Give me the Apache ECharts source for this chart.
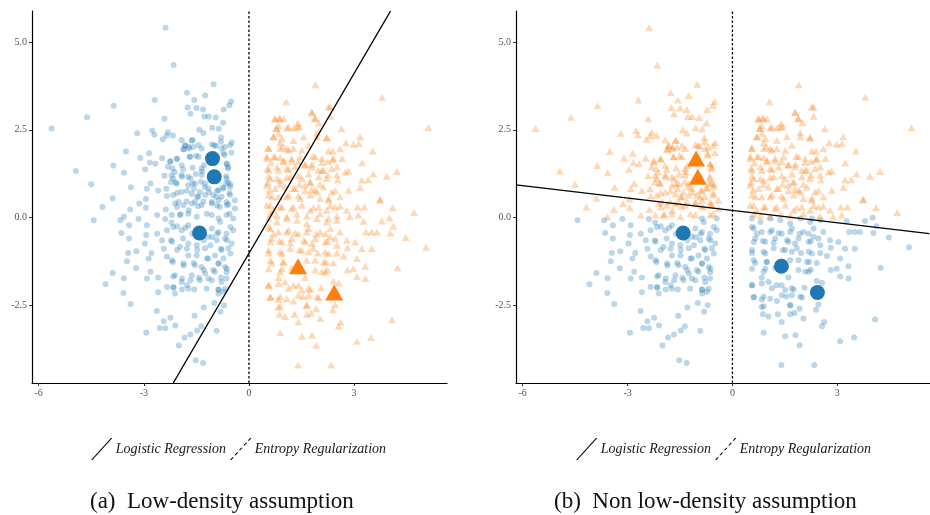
<!DOCTYPE html>
<html>
<head>
<meta charset="utf-8">
<title>Low-density vs non low-density assumption</title>
<script src="https://cdn.jsdelivr.net/npm/echarts@6.0.0/dist/echarts.min.js"></script>
<style>
body { margin: 0; background: #fff; }
#main { width: 930px; height: 515px; }
</style>
</head>
<body>
<div id="main"></div>
<script>
// points of the left blob (x < 0) and of the right blob (x > 0)
var leftCluster = [
  [-2.38,5.41],[-2.15,4.35],[-1.01,3.80],[-1.77,3.56],[-1.25,3.48],[-1.56,3.35],[-0.51,3.31],[-2.69,3.35],[-3.86,3.19],[-4.62,2.86],
  [-5.63,2.54],[-1.75,3.14],[-1.50,3.12],[-1.31,3.08],[-0.56,3.20],[-0.72,3.08],[-1.67,2.96],[-1.27,2.88],[-1.15,2.88],[-0.95,2.85],
  [-2.41,2.82],[-0.74,2.70],[-1.05,2.56],[-0.86,2.53],[-1.42,2.50],[-2.76,2.48],[-3.19,2.40],[-2.31,2.43],[-2.70,2.36],[-2.35,2.33],
  [-2.17,2.34],[-1.30,2.41],[-2.46,2.23],[-0.80,2.28],[-1.92,2.21],[-1.61,2.21],[-0.49,2.14],[-1.83,2.05],[-1.72,2.02],[-1.06,2.08],
  [-0.94,2.04],[-0.69,2.01],[-3.51,1.88],[-2.85,1.83],[-3.10,1.70],[-2.48,1.69],[-2.05,1.66],[-1.86,1.95],[-1.69,1.73],[-1.51,1.76],
  [-0.72,1.83],[-2.83,1.57],[-2.67,1.53],[-2.24,1.61],[-2.31,1.45],[-3.87,1.48],[-4.94,1.33],[-3.57,1.28],[-2.96,1.38],[-1.88,1.38],
  [-2.12,1.30],[-1.52,1.24],[-1.34,1.31],[-0.63,1.52],[-0.60,1.40],[-2.41,1.19],[-2.21,1.20],[-1.91,1.16],[-1.67,1.11],[-4.50,0.95],
  [-3.37,0.86],[-2.81,0.97],[-2.22,1.01],[-2.09,0.99],[-1.61,0.97],[-1.37,1.02],[-0.65,1.18],[-0.65,0.97],[-0.53,0.94],[-2.91,0.82],
  [-2.59,0.77],[-2.36,0.82],[-2.05,0.70],[-1.77,0.76],[-1.57,0.82],[-1.26,0.87],[-0.91,0.76],[-0.74,0.86],[-0.56,0.70],[-3.89,0.55],
  [-2.94,0.53],[-2.34,0.61],[-1.48,0.59],[-1.14,0.72],[-0.93,0.59],
  [-4.18,0.30],[-3.39,0.23],[-3.13,0.40],[-2.94,0.28],[-3.15,-0.04],[-4.43,-0.08],[-3.67,-0.08],[-3.57,0.02],[-3.42,-0.22],[-3.64,-0.44],
  [-2.91,-0.22],[-2.62,0.07],[-2.39,-0.04],[-2.21,-0.14],[-2.37,0.23],[-2.05,0.30],[-1.95,0.09],[-1.72,0.21],[-1.46,0.32],[-1.20,0.11],
  [-0.91,0.34],[-0.63,0.35],[-0.55,0.11],[-0.82,-0.13],[-0.53,-0.27],[-2.05,-0.25],[-1.81,-0.29],[-1.62,-0.46],[-2.62,-0.46],[-2.34,-0.36],
  [-2.93,-0.50],[-3.42,-0.60],[-2.97,-0.74],[-2.48,-0.65],[-2.22,-0.65],[-1.88,-0.60],[-1.29,-0.65],[-1.05,-0.56],[-0.91,-0.46],[-0.63,-0.65],
  [-0.80,-0.89],[-0.53,-1.03],[-1.10,-0.79],[-1.48,-0.93],[-1.77,-0.89],[-2.05,-0.93],[-2.43,-0.89],[-2.78,-1.01],[-3.45,-1.01],[-3.21,-0.96],
  [-3.48,-1.25],[-2.86,-1.17],[-2.34,-1.11],[-2.17,-1.27],[-1.86,-1.37],[-1.58,-1.30],[-1.20,-1.17],[-0.87,-1.31],[-0.63,-1.46],[-1.29,-1.50],
  [-1.02,-1.50],[-3.22,-1.45],[-2.81,-1.55],[-3.89,-1.58],[-2.59,-1.71],[-2.91,-1.74],[-4.09,-1.90],[-3.57,-1.73],[-2.16,-1.68],[-1.91,-1.74],
  [-1.67,-1.79],[-1.43,-1.72],[-1.16,-1.74],[-0.80,-1.71],[-2.34,-1.98],[-2.15,-2.00],[-1.91,-2.05],[-1.77,-1.93],[-1.56,-2.05],[-0.87,-2.05],
  [-0.73,-2.12],[-3.58,-2.15],[-2.59,-2.13],[-3.38,-2.47],[-0.99,-2.44],[-0.71,-2.50],[-0.81,-2.69],[-1.29,-2.57],[-1.55,-2.80],[-2.63,-2.67],
  [-2.24,-2.86],[-2.43,-2.96],[-2.55,-3.15],[-2.39,-3.16],[-2.10,-3.08],[-2.93,-3.29],[-1.36,-3.10],[-1.48,-3.22],[-0.92,-3.23],[-1.84,-3.42],
  [-1.67,-3.34],[-2.00,-3.65],[-1.52,-4.07],[-1.31,-4.15],
  // dense core, upper half
  [-1.82,2.06],[-1.63,2.20],[-1.59,2.01],[-1.87,1.95],[-1.71,1.97],[-1.44,2.06],[-1.35,1.97],[-0.99,2.06],[-0.80,2.16],[-0.54,2.06],
  [-0.78,1.97],[-0.50,1.85],[-0.70,1.78],[-1.68,1.73],[-1.44,1.73],[-2.06,1.68],[-2.25,1.59],[-1.92,1.49],[-2.18,1.40],[-1.61,1.42],
  [-1.35,1.40],[-1.28,1.49],[-0.64,1.54],[-0.59,1.44],[-1.92,1.21],[-2.16,1.11],[-1.73,1.16],[-1.35,1.21],[-1.54,0.97],[-2.06,0.97],
  [-1.73,0.92],[-1.25,0.97],[-0.64,1.11],[-0.59,1.00],[-0.54,0.87],[-0.73,0.83],[-0.87,0.78],[-1.16,0.83],[-1.40,0.73],[-1.63,0.68],
  [-1.92,0.73],[-2.16,0.64],[-1.44,0.59],[-1.25,0.64],[-1.02,0.64],[-0.78,0.59],[-0.54,0.64],[-0.40,0.49],[-1.78,0.46],[-1.54,0.44],
  [-1.30,0.46],[-1.06,0.44],[-0.87,0.49],[-0.64,0.44],[-2.01,0.44],
  // dense core, lower half
  [-2.11,0.40],[-1.87,0.35],[-1.63,0.40],[-1.35,0.35],[-1.06,0.40],[-0.83,0.30],[-0.59,0.38],[-0.40,0.26],[-2.20,0.07],[-1.97,0.07],
  [-1.73,0.11],[-1.49,0.02],[-1.06,0.07],[-0.87,-0.03],[-0.64,0.07],[-0.45,-0.03],[-2.16,-0.27],[-1.92,-0.36],[-1.73,-0.22],[-1.06,-0.31],
  [-0.87,-0.41],[-0.64,-0.46],[-0.45,-0.36],[-1.16,-0.55],[-0.92,-0.65],[-0.68,-0.60],[-0.49,-0.74],[-2.20,-0.69],[-1.97,-0.84],[-1.73,-0.74],
  [-1.49,-0.79],[-1.25,-0.88],[-0.78,-0.93],[-0.59,-0.88],[-0.97,-1.08],[-0.73,-1.17],[-1.16,-1.17],[-1.49,-1.08],[-1.73,-1.08],[-2.20,-1.22],
  [-1.87,-1.31],[-1.54,-1.36],[-1.35,-1.41],[-0.87,-1.31],[-0.68,-1.41],[-0.64,-1.56],[-0.97,-1.55],[-1.63,-1.65],[-1.25,-1.60],[-2.11,-1.65],
  [-1.92,-1.84],[-1.40,-1.79],[-1.06,-1.79],[-0.78,-1.84],[-0.64,-1.74],[-2.16,-1.98],[-2.11,-2.17],[-1.73,-2.03],[-1.21,-2.03],[-0.87,-2.06],
  [-0.68,-2.03],[-0.87,-2.17]
];
var rightCluster = [
  [1.90,3.79],[1.06,3.30],[3.80,3.43],[2.32,3.15],[1.80,2.99],[0.74,2.81],[0.86,2.84],[0.99,2.82],[1.88,2.83],[2.32,2.89],
  [1.39,2.68],[2.00,2.70],[0.84,2.62],[0.77,2.54],[1.08,2.55],[1.27,2.55],[1.44,2.59],[2.64,2.53],[5.12,2.56],[0.85,2.40],
  [0.70,2.30],[1.94,2.42],[2.22,2.28],[3.17,2.30],[0.89,2.13],[0.55,1.98],[1.08,1.96],[1.27,1.97],[0.97,2.02],[2.77,2.13],
  [2.98,2.09],[3.13,2.11],[2.60,1.96],[3.53,1.90],[0.51,1.73],[0.70,1.73],[0.89,1.71],[1.46,1.73],[1.82,1.75],[2.27,1.90],
  [2.39,1.90],[2.39,1.65],[2.66,1.68],[0.63,1.56],[0.99,1.59],[1.22,1.61],[1.60,1.51],[1.80,1.52],[2.08,1.57],[2.25,1.60],
  [3.23,1.56],[0.53,1.40],[0.84,1.35],[1.13,1.37],[1.98,1.35],[2.13,1.35],[2.51,1.45],[2.75,1.30],[2.84,1.33],[3.55,1.24],
  [3.93,1.18],[4.22,1.31],[0.56,1.18],[0.80,1.11],[1.08,1.14],[1.41,1.19],[1.70,1.24],[2.25,1.21],[3.22,1.07],[3.40,1.08],
  [0.53,0.99],[0.89,0.95],[1.44,0.95],[1.74,0.99],[2.03,0.95],[2.53,1.07],[0.59,0.78],[1.27,0.83],[1.60,0.76],[1.79,0.80],
  [1.94,0.73],[2.46,0.76],[2.84,0.78],[3.17,0.86],[0.66,0.59],[1.08,0.59],[1.41,0.61],[2.27,0.54],[2.60,0.59],[3.74,0.53],
  [3.74,0.49],[4.10,0.28],[4.71,0.14],[3.10,0.30],[3.29,0.30],[2.79,0.21],[2.60,0.32],[2.32,0.34],[2.03,0.11],[1.84,0.28],
  [1.27,0.30],[0.89,0.30],[0.61,0.35],[0.61,0.11],[0.80,0.06],[1.08,0.02],[1.37,0.09],[1.65,0.04],[2.27,-0.03],[2.51,0.04],
  [2.88,0.02],[3.12,0.07],[3.79,-0.10],[4.01,-0.01],[3.27,-0.11],[4.12,-0.25],[3.34,-0.41],[3.50,-0.41],[3.65,-0.41],[4.03,-0.44],
  [4.47,-0.57],[5.05,-0.85],[3.03,-0.70],[2.79,-0.65],[2.60,-0.41],[2.32,-0.55],[2.18,-0.46],[1.92,-0.46],[1.65,-0.41],[1.32,-0.44],
  [1.08,-0.41],[0.70,-0.46],[0.56,-0.27],[0.61,-0.70],[0.87,-0.67],[1.18,-0.72],[1.56,-0.65],[1.79,-0.74],[2.24,-0.68],[2.51,-0.79],
  [2.81,-0.86],[3.22,-0.89],[3.50,-0.89],[0.56,-1.01],[0.94,-1.03],[1.44,-0.93],[1.70,-0.98],[1.96,-1.01],[2.27,-1.03],[2.51,-1.01],
  [2.70,-1.10],[3.08,-1.17],[0.65,-1.30],[0.97,-1.27],[1.89,-1.22],[2.20,-1.27],[2.41,-1.30],[3.32,-1.39],[4.24,-1.43],[0.94,-1.46],
  [1.22,-1.43],[2.08,-1.54],[2.24,-1.49],[2.81,-1.50],[2.98,-1.46],[3.08,-1.68],[3.32,-1.74],[1.60,-1.71],[0.84,-1.71],[0.56,-1.93],
  [1.03,-1.84],[1.27,-1.93],[1.51,-2.07],[1.75,-2.05],[2.06,-2.00],[2.41,-1.81],[2.56,-1.87],[0.61,-2.28],[0.84,-2.34],[1.08,-2.32],
  [1.27,-2.38],[1.54,-2.25],[1.70,-2.22],[1.99,-2.28],[0.89,-2.53],[1.65,-2.50],[1.92,-2.60],[2.46,-2.48],[0.87,-2.76],[1.03,-2.82],
  [1.30,-2.76],[1.65,-2.76],[1.77,-2.72],[2.03,-2.88],[1.41,-2.98],[2.39,-2.63],[2.62,-2.98],[2.56,-3.10],[4.08,-2.91],[0.89,-3.29],
  [1.51,-3.39],[1.80,-3.36],[1.92,-3.64],[3.08,-3.53],[3.48,-3.42],[1.40,-4.21],[2.34,-4.21],
  // dense core
  [0.75,2.82],[0.89,2.82],[1.79,3.01],[1.89,2.82],[2.27,3.16],[1.13,2.58],[1.37,2.58],[0.80,2.54],[0.70,2.30],[0.94,2.25],
  [1.27,2.20],[1.56,2.30],[1.94,2.30],[2.22,2.27],[0.56,1.97],[0.89,1.97],[1.13,1.92],[1.51,1.92],[1.70,2.06],[1.89,1.73],
  [2.08,1.68],[2.41,1.68],[0.51,1.68],[0.75,1.73],[0.99,1.63],[1.22,1.68],[1.41,1.59],[1.60,1.49],[1.32,1.44],[1.08,1.40],
  [0.80,1.44],[0.56,1.35],[1.79,1.44],[2.08,1.35],[2.36,1.40],[2.51,1.21],[0.61,1.11],[0.89,1.06],[1.18,1.16],[1.51,1.11],
  [1.75,1.02],[1.99,1.16],[2.22,1.11],[0.51,0.92],[0.75,0.83],[1.03,0.87],[1.32,0.83],[1.60,0.92],[1.89,0.78],[2.13,0.87],
  [2.36,0.73],[0.56,0.64],[0.84,0.59],[1.13,0.64],[1.46,0.54],[1.75,0.64],[2.03,0.54],[2.27,0.49],[0.51,0.35],[0.70,0.21],
  [0.94,0.30],[1.22,0.26],[1.51,0.35],[1.75,0.21],[1.99,0.30],[2.22,0.21],[2.46,0.30],[0.56,-0.03],[0.80,-0.13],[1.08,-0.03],
  [1.37,-0.08],[1.65,-0.17],[1.94,-0.03],[2.22,-0.13],[2.51,-0.08],[0.61,-0.31],[0.84,-0.41],[1.13,-0.36],[1.41,-0.46],[1.70,-0.31],
  [2.03,-0.41],[2.32,-0.31],[0.65,-0.60],[0.94,-0.69],[1.22,-0.60],[1.60,-0.69],[1.89,-0.60],[2.18,-0.69],[2.46,-0.60],[0.56,-0.93],
  [0.89,-0.98],[1.18,-0.88],[1.51,-0.93],[1.84,-0.88],[2.18,-0.98],[0.61,-1.22],[0.99,-1.27],[1.65,-1.22],[2.13,-1.27],[0.56,-1.46],
  [0.89,-1.55],[1.89,-1.50],[2.18,-1.55],[0.56,-1.93],[0.84,-1.88],[1.13,-2.02],[1.41,-1.93],[1.70,-2.02],[0.89,-2.26],[0.61,-2.26],
  [1.41,-2.22],[0.84,-2.55],[1.65,-2.50],[1.94,-2.26]
];
// the few labelled points, drawn big
var labeledLeft = [[-1.04,1.68],[-0.99,1.16],[-1.41,-0.44]];
var labeledRight = [[1.40,-1.39],[2.43,-2.14]];
// decision boundaries
var logisticA = [[-2.16,-4.72],[4.04,5.89]];
var logisticB = [[-6.19,0.93],[5.63,-0.46]];
var entropyLine = [[0,-4.72],[0,5.89]];

var xTicks = [-6, -3, 0, 3];
var yTicks = [-2.5, 0, 2.5, 5];
var xRange = [-6.19, 5.65];
var yRange = [-4.72, 5.89];
var captions = ['(a)  Low-density assumption', '(b)  Non low-density assumption'];
var legendNames = ['Logistic Regression', 'Entropy Regularization'];

var BLUE = '#1f77b4', ORANGE = '#ff7f0e';
var serif = '"Liberation Serif", "DejaVu Serif", serif';

// panel (b): same points, class decided by the sign of y
var allPts = leftCluster.concat(rightCluster);
var upperPts = allPts.filter(function (p) { return p[1] >= 0; });
var lowerPts = allPts.filter(function (p) { return p[1] < 0; });
var allLabeled = labeledLeft.concat(labeledRight);
var upperLabeled = allLabeled.filter(function (p) { return p[1] >= 0; });
var lowerLabeled = allLabeled.filter(function (p) { return p[1] < 0; });

function xAxis(i) {
  return {
    type: 'value', gridIndex: i, min: xRange[0], max: xRange[1],
    splitLine: { show: false },
    axisLine: { onZero: false, lineStyle: { color: '#000', width: 1.2 } },
    axisTick: { length: 3, customValues: xTicks, lineStyle: { color: '#333' } },
    axisLabel: { customValues: xTicks, color: '#555', fontSize: 10, fontFamily: serif, margin: 5 }
  };
}
function yAxis(i) {
  return {
    type: 'value', gridIndex: i, min: yRange[0], max: yRange[1],
    splitLine: { show: false },
    axisLine: { show: true, onZero: false, lineStyle: { color: '#000', width: 1.2 } },
    axisTick: { show: true, length: 3, customValues: yTicks, lineStyle: { color: '#333' } },
    axisLabel: { customValues: yTicks, color: '#555', fontSize: 10, fontFamily: serif, margin: 5,
      formatter: function (v) { return v.toFixed(1); } }
  };
}
function dots(i, data, color) {
  return { type: 'scatter', xAxisIndex: i, yAxisIndex: i, data: data, symbol: 'circle', symbolSize: 6,
    itemStyle: { color: color, opacity: 0.3 }, silent: true, z: 2 };
}
function tris(i, data, color) {
  return { type: 'scatter', xAxisIndex: i, yAxisIndex: i, data: data, symbol: 'triangle', symbolSize: [8, 7],
    itemStyle: { color: color, opacity: 0.3 }, silent: true, z: 2 };
}
function bigDots(i, data) {
  return { type: 'scatter', xAxisIndex: i, yAxisIndex: i, data: data, symbol: 'circle', symbolSize: 15,
    itemStyle: { color: BLUE, opacity: 1 }, silent: true, z: 4 };
}
function bigTris(i, data) {
  return { type: 'scatter', xAxisIndex: i, yAxisIndex: i, data: data, symbol: 'triangle', symbolSize: [18, 16],
    itemStyle: { color: ORANGE, opacity: 1 }, silent: true, z: 4 };
}
function line(i, name, data, dashed) {
  return { type: 'line', name: name, xAxisIndex: i, yAxisIndex: i, data: data, showSymbol: false, symbol: 'none',
    color: '#000', lineStyle: { color: '#000', width: dashed ? 1.3 : 1.4, type: dashed ? [2.5, 2] : 'solid' },
    silent: true, z: 5 };
}

var solidIcon = 'path://M0,22 L20,0 L21.4,0 L1.4,22 Z';
var dashIcon = 'path://M0,22 L2.4,19.36 L3.8,19.36 L1.4,22 Z M4.4,17.16 L6.8,14.52 L8.2,14.52 L5.8,17.16 Z ' +
  'M8.8,12.32 L11.2,9.68 L12.6,9.68 L10.2,12.32 Z M13.2,7.48 L15.6,4.84 L17,4.84 L14.6,7.48 Z ' +
  'M17.6,2.64 L20,0 L21.4,0 L19,2.64 Z';

function legend(left) {
  return {
    left: left, top: 433, itemWidth: 22, itemHeight: 22, itemGap: 4, selectedMode: false,
    textStyle: { fontFamily: serif, fontStyle: 'italic', fontSize: 14, color: '#1a1a1a', padding: [0, 0, 0, -2] },
    data: [{ name: legendNames[0], icon: solidIcon }, { name: legendNames[1], icon: dashIcon }]
  };
}

var chart = echarts.init(document.getElementById('main'));
chart.setOption({
  animation: false,
  backgroundColor: '#fff',
  grid: [
    { left: 32, top: 11, width: 415, height: 372 },
    { left: 516, top: 11, width: 414, height: 372 }
  ],
  xAxis: [xAxis(0), xAxis(1)],
  yAxis: [yAxis(0), yAxis(1)],
  legend: [legend(86), legend(571)],
  title: [
    { text: captions[0], left: 85, top: 485, textStyle: { fontFamily: serif, fontSize: 23, fontWeight: 'normal', color: '#111' } },
    { text: captions[1], left: 549, top: 485, textStyle: { fontFamily: serif, fontSize: 23, fontWeight: 'normal', color: '#111' } }
  ],
  series: [
    dots(0, leftCluster, BLUE),
    tris(0, rightCluster, ORANGE),
    bigDots(0, labeledLeft),
    bigTris(0, labeledRight),
    line(0, legendNames[0], logisticA, false),
    line(0, legendNames[1], entropyLine, true),
    dots(1, lowerPts, BLUE),
    tris(1, upperPts, ORANGE),
    bigDots(1, lowerLabeled),
    bigTris(1, upperLabeled),
    line(1, legendNames[0], logisticB, false),
    line(1, legendNames[1], entropyLine, true)
  ]
});
</script>
</body>
</html>
